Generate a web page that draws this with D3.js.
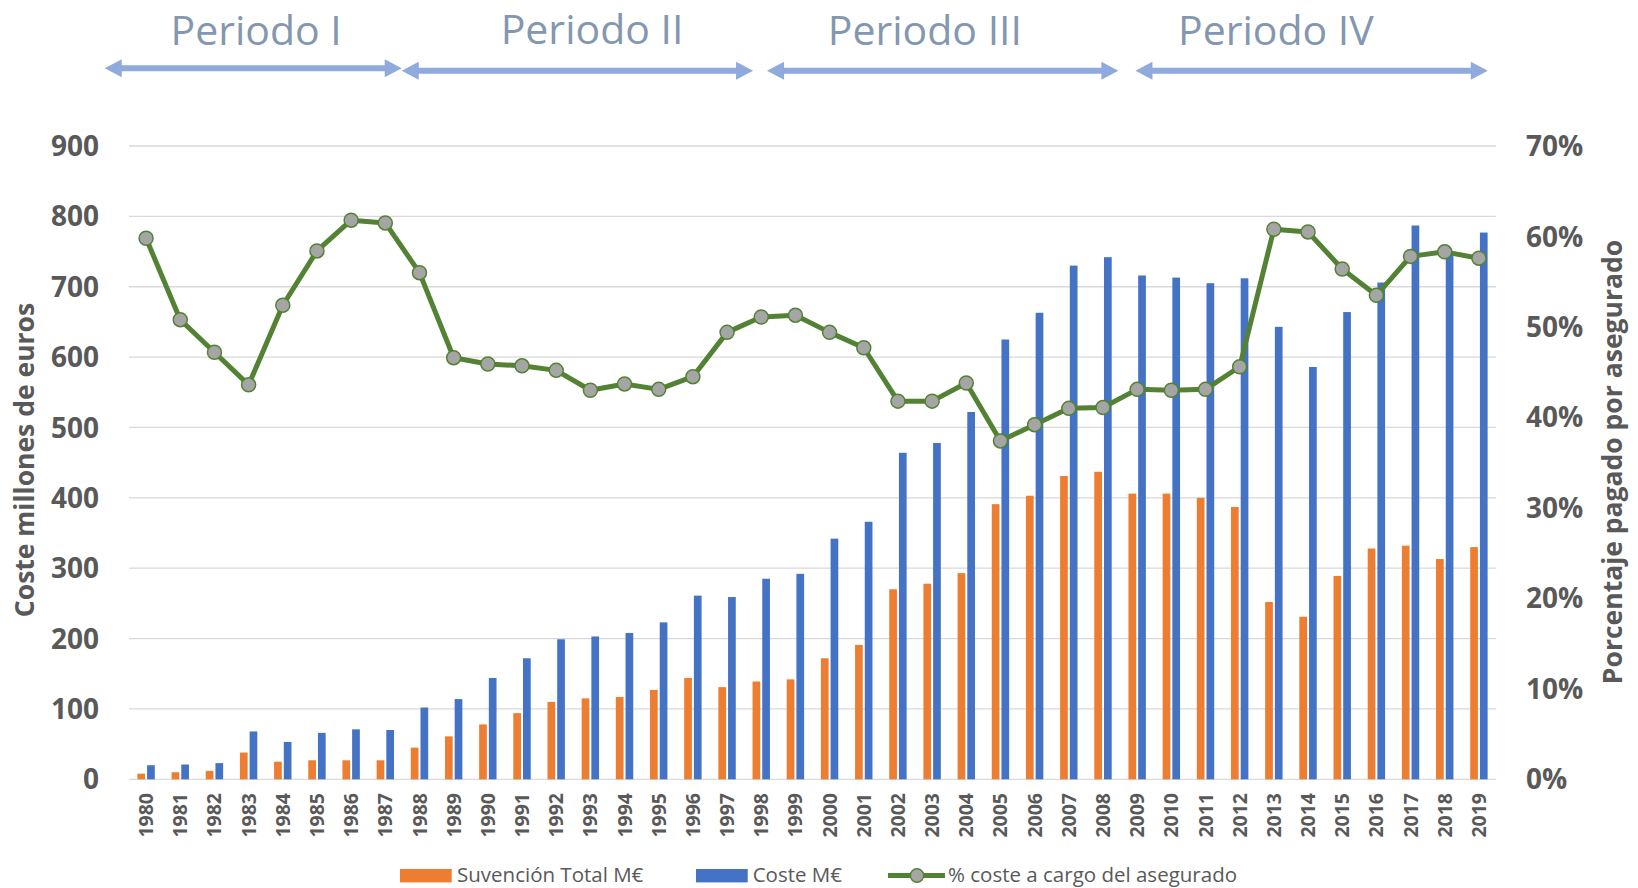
<!DOCTYPE html>
<head>
<meta charset="utf-8">
<title></title>
<style>
body { margin: 0; background: #fff; }
text { font-family: "Open Sans", sans-serif; }
.grid line { stroke: #d9d9d9; stroke-width: 1.3px; }
.tick-label { fill: #595959; font-weight: 700; font-size: 28px; }
.year-label { fill: #595959; font-weight: 700; font-size: 19.5px; }
.axis-title { fill: #595959; font-weight: 700; font-size: 26.5px; }
.legend text { fill: #595959; font-size: 20.5px; }
.period { fill: #8497b0; font-size: 41px; font-weight: 400; }
</style>
</head>

<body>
<script type="text/javascript" src="https://cdn.jsdelivr.net/npm/d3@7"></script>
<script>

// years on x axis
var years = [1980, 1981, 1982, 1983, 1984, 1985, 1986, 1987, 1988, 1989,
             1990, 1991, 1992, 1993, 1994, 1995, 1996, 1997, 1998, 1999,
             2000, 2001, 2002, 2003, 2004, 2005, 2006, 2007, 2008, 2009,
             2010, 2011, 2012, 2013, 2014, 2015, 2016, 2017, 2018, 2019];

// Suvencion Total M€
var subvencion = [8, 10, 12, 38, 25, 27, 27, 27, 45, 61,
                  78, 94, 110, 115, 117, 127, 144, 131, 139, 142,
                  172, 191, 270, 278, 293, 391, 403, 431, 437, 406,
                  406, 400, 387, 252, 231, 289, 328, 332, 313, 330];

// Coste M€
var coste = [20, 21, 23, 68, 53, 66, 71, 70, 102, 114,
             144, 172, 199, 203, 208, 223, 261, 259, 285, 292,
             342, 366, 464, 478, 522, 625, 663, 730, 742, 716,
             713, 705, 712, 643, 586, 664, 706, 787, 748, 777];

// % coste a cargo del asegurado
var porcentaje = [0.598, 0.508, 0.472, 0.436, 0.524, 0.584, 0.618, 0.615, 0.560, 0.466,
                  0.459, 0.457, 0.452, 0.430, 0.437, 0.431, 0.445, 0.494, 0.511, 0.513,
                  0.494, 0.477, 0.418, 0.418, 0.438, 0.374, 0.392, 0.410, 0.411, 0.431,
                  0.430, 0.431, 0.456, 0.608, 0.605, 0.564, 0.535, 0.578, 0.583, 0.576];

var leftTicks = [0, 100, 200, 300, 400, 500, 600, 700, 800, 900];
var rightTicks = [0, 0.1, 0.2, 0.3, 0.4, 0.5, 0.6, 0.7];

// periods drawn above the chart (start / end in year units)
var periodLabels = ["Periodo I", "Periodo II", "Periodo III", "Periodo IV"];
var periodStart = [1978.79, 1987.48, 1998.17, 2008.95];
var periodEnd = [1987.48, 1997.76, 2008.45, 2019.26];
var periodMid = [1983.22, 1993.05, 2002.79, 2013.06];

var legendNames = ["Suvención Total M€", "Coste M€", "% coste a cargo del asegurado"];

var width = 1638,
    height = 888;

var margin = {left: 129, right: 142, top: 146, bottom: 108.7};

var orange = "#ed7d31",
    blue = "#4472c4",
    green = "#548235";

var svg = d3.select("body").append("svg")
    .attr("width", width)
    .attr("height", height);

var x = d3.scaleBand()
    .domain(years)
    .range([margin.left, width - margin.right])
    .paddingInner(0);

var y = d3.scaleLinear()
    .domain([0, 900])
    .range([height - margin.bottom, margin.top]);

var y2 = d3.scaleLinear()
    .domain([0, 0.7])
    .range([height - margin.bottom, margin.top]);

// year -> center of band, for the period arrows
var xYear = d3.scaleLinear()
    .domain([years[0], years[years.length - 1]])
    .range([x(years[0]) + x.bandwidth() / 2, x(years[years.length - 1]) + x.bandwidth() / 2]);

// gridlines
svg.append("g")
    .attr("class", "grid")
    .selectAll("line")
    .data(leftTicks)
    .enter().append("line")
    .attr("x1", margin.left)
    .attr("x2", width - margin.right)
    .attr("y1", function(d) { return y(d); })
    .attr("y2", function(d) { return y(d); });

// left tick labels
svg.append("g")
    .selectAll("text")
    .data(leftTicks)
    .enter().append("text")
    .attr("class", "tick-label")
    .attr("x", 99)
    .attr("y", function(d) { return y(d); })
    .attr("dy", "0.36em")
    .attr("text-anchor", "end")
    .text(function(d) { return d; });

// right tick labels
svg.append("g")
    .selectAll("text")
    .data(rightTicks)
    .enter().append("text")
    .attr("class", "tick-label")
    .attr("x", 1526)
    .attr("y", function(d) { return y2(d); })
    .attr("dy", "0.36em")
    .attr("text-anchor", "start")
    .text(function(d) { return d3.format(".0%")(d); });

// bars
var bw = 7.7;
var gap = 1;

svg.append("g")
    .selectAll("rect")
    .data(years)
    .enter().append("rect")
    .attr("x", function(d) { return x(d) + x.bandwidth() / 2 - gap - bw; })
    .attr("y", function(d, i) { return y(subvencion[i]); })
    .attr("width", bw)
    .attr("height", function(d, i) { return y(0) - y(subvencion[i]); })
    .attr("fill", orange);

svg.append("g")
    .selectAll("rect")
    .data(years)
    .enter().append("rect")
    .attr("x", function(d) { return x(d) + x.bandwidth() / 2 + gap; })
    .attr("y", function(d, i) { return y(coste[i]); })
    .attr("width", bw)
    .attr("height", function(d, i) { return y(0) - y(coste[i]); })
    .attr("fill", blue);

// year labels
svg.append("g")
    .selectAll("text")
    .data(years)
    .enter().append("text")
    .attr("class", "year-label")
    .attr("transform", function(d) {
      return "translate(" + (x(d) + x.bandwidth() / 2) + "," + 793 + ") rotate(-90)";
    })
    .attr("dy", "0.36em")
    .attr("text-anchor", "end")
    .text(function(d) { return d; });

// line
var line = d3.line()
    .x(function(d) { return x(d) + x.bandwidth() / 2; })
    .y(function(d, i) { return y2(porcentaje[i]); });

svg.append("path")
    .datum(years)
    .attr("d", line)
    .attr("fill", "none")
    .attr("stroke", green)
    .attr("stroke-width", 5)
    .attr("stroke-linejoin", "round");

svg.append("g")
    .selectAll("circle")
    .data(years)
    .enter().append("circle")
    .attr("cx", function(d) { return x(d) + x.bandwidth() / 2; })
    .attr("cy", function(d, i) { return y2(porcentaje[i]); })
    .attr("r", 7)
    .attr("fill", "#a5a5a5")
    .attr("stroke", green)
    .attr("stroke-width", 1.5);

// axis titles
svg.append("text")
    .attr("class", "axis-title")
    .attr("transform", "translate(24," + 460 + ") rotate(-90)")
    .attr("dy", "0.36em")
    .attr("text-anchor", "middle")
    .text("Coste millones de euros");

svg.append("text")
    .attr("class", "axis-title")
    .attr("transform", "translate(1612," + 462 + ") rotate(-90)")
    .attr("dy", "0.36em")
    .attr("text-anchor", "middle")
    .text("Porcentaje pagado por asegurado");

// period arrows
var arrowY = [68.3, 70.7, 70.7, 70.7];
var arrowColor = "#8faadc";

function arrowPath(x0, x1, yy) {
  var h = 9, len = 17, t = 3;
  return "M" + x0 + "," + yy +
    "L" + (x0 + len) + "," + (yy - h) +
    "L" + (x0 + len) + "," + (yy - t) +
    "L" + (x1 - len) + "," + (yy - t) +
    "L" + (x1 - len) + "," + (yy - h) +
    "L" + x1 + "," + yy +
    "L" + (x1 - len) + "," + (yy + h) +
    "L" + (x1 - len) + "," + (yy + t) +
    "L" + (x0 + len) + "," + (yy + t) +
    "L" + (x0 + len) + "," + (yy + h) + "Z";
}

svg.append("g")
    .selectAll("path")
    .data(periodLabels)
    .enter().append("path")
    .attr("d", function(d, i) { return arrowPath(xYear(periodStart[i]), xYear(periodEnd[i]), arrowY[i]); })
    .attr("fill", arrowColor);

var labelY = [45, 43.8, 45, 45];
svg.append("g")
    .selectAll("text")
    .data(periodLabels)
    .enter().append("text")
    .attr("class", "period")
    .attr("x", function(d, i) { return xYear(periodMid[i]); })
    .attr("y", function(d, i) { return labelY[i]; })
    .attr("text-anchor", "middle")
    .text(function(d) { return d; });

// legend
var legend = svg.append("g").attr("class", "legend");
var legendY = 874.5;

legend.append("rect")
    .attr("x", 400).attr("y", 869).attr("width", 51.7).attr("height", 13.4)
    .attr("fill", orange);
legend.append("text")
    .attr("x", 457).attr("y", legendY).attr("dy", "0.36em")
    .text(legendNames[0]);

legend.append("rect")
    .attr("x", 696).attr("y", 869).attr("width", 51.7).attr("height", 13.4)
    .attr("fill", blue);
legend.append("text")
    .attr("x", 752.7).attr("y", legendY).attr("dy", "0.36em")
    .text(legendNames[1]);

legend.append("line")
    .attr("x1", 888).attr("x2", 945).attr("y1", 875.5).attr("y2", 875.5)
    .attr("stroke", green).attr("stroke-width", 5);
legend.append("circle")
    .attr("cx", 917).attr("cy", 875.5).attr("r", 6.7)
    .attr("fill", "#a5a5a5").attr("stroke", green).attr("stroke-width", 1.5);
legend.append("text")
    .attr("x", 948).attr("y", legendY).attr("dy", "0.36em")
    .text(legendNames[2]);

</script>
</body>
</html>
